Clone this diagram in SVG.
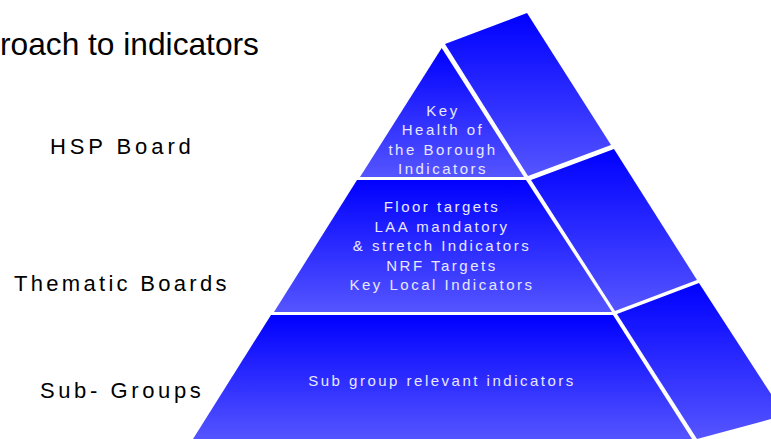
<svg xmlns="http://www.w3.org/2000/svg" width="771" height="439" viewBox="0 0 771 439">
<defs>
<linearGradient id="g" x1="0" y1="0" x2="0" y2="1">
<stop offset="0" stop-color="#0000ff"/>
<stop offset="1" stop-color="#5555ff"/>
</linearGradient>
<style>
.face{fill:url(#g);}
.in{font-family:"Liberation Sans",Arial,sans-serif;font-size:15px;letter-spacing:2.5px;fill:#e8e8ff;text-anchor:middle;}
.lbl{font-family:"Liberation Sans",Arial,sans-serif;font-size:22px;letter-spacing:3.7px;fill:#000;}
.title{font-family:"Liberation Sans",Arial,sans-serif;font-size:31.7px;fill:#000;}
</style>
</defs>
<rect width="771" height="439" fill="#fff"/>
<text class="title" x="0" y="55">roach to indicators</text>
<g id="label-hsp"><text class="lbl" x="50" y="154" style="letter-spacing:3.9px">HSP Board</text></g>
<g id="label-thematic"><text class="lbl" x="14" y="290.5" style="letter-spacing:3.3px">Thematic Boards</text></g>
<g id="label-sub"><text class="lbl" x="40" y="398" style="letter-spacing:3.6px">Sub- Groups</text></g>
<g id="side-top"><polygon class="face" points="445,44 527,13 611,145 528,176"/></g>
<g id="side-middle"><polygon class="face" points="531,180 614,149 697,280 615,311"/></g>
<g id="side-bottom"><polygon class="face" points="617,314 699,283 771,394 771,419 697,439"/></g>
<g id="tier-top">
<polygon class="face" points="441.7,48 360,177 524,177"/>
<text class="in" x="443" y="116">Key</text>
<text class="in" x="443" y="135">Health of</text>
<text class="in" x="443" y="155">the Borough</text>
<text class="in" x="443" y="174">Indicators</text>
</g>
<g id="tier-middle">
<polygon class="face" points="357,180 526,180 612,312 274,312"/>
<text class="in" x="442" y="212">Floor targets</text>
<text class="in" x="442" y="231.5">LAA mandatory</text>
<text class="in" x="442" y="251">&amp; stretch Indicators</text>
<text class="in" x="442" y="270.5">NRF Targets</text>
<text class="in" x="442" y="290">Key Local Indicators</text>
</g>
<g id="tier-bottom">
<polygon class="face" points="271,315 613,315 692,439 193,439"/>
<text class="in" x="442" y="386">Sub group relevant indicators</text>
</g>
<g id="connectors"></g>
</svg>
